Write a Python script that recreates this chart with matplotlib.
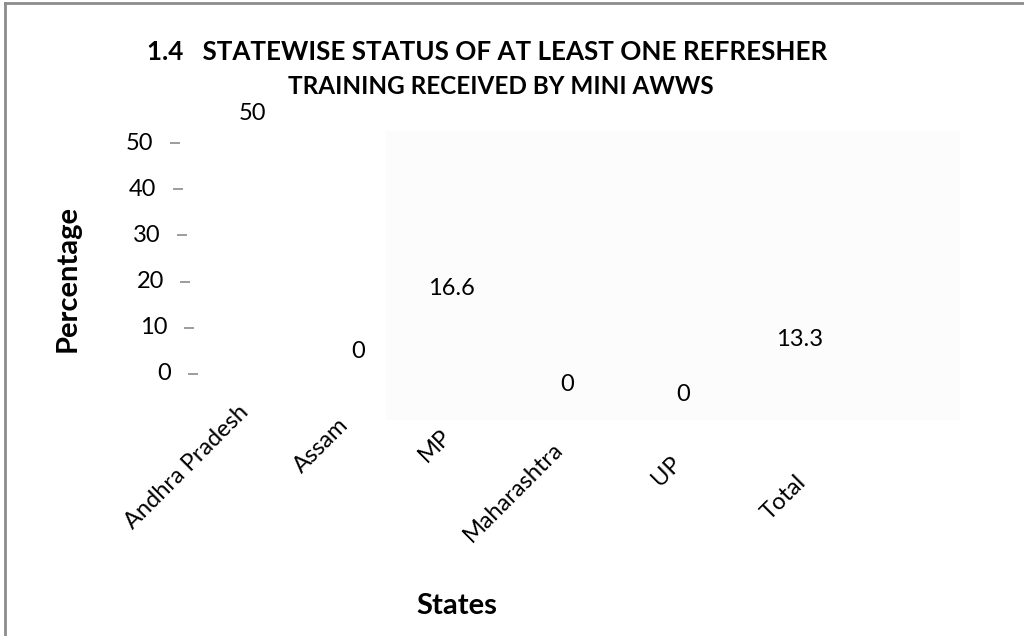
import numpy as np
import matplotlib
matplotlib.use('Agg')
import matplotlib.pyplot as plt
from matplotlib.patches import Rectangle
from matplotlib.transforms import Affine2D

plt.rcParams['font.family'] = ['Lato', 'DejaVu Sans']

# data
states = ['Andhra Pradesh', 'Assam', 'MP', 'Maharashtra', 'UP', 'Total']
percent = [50, 0, 16.6, 0, 0, 13.3]
yticks = [0, 10, 20, 30, 40, 50]

# the source chart is a broken 3d chart: labels drift, so keep pixel offsets per item
val_dx = [-4, -9, -25, -19, -13, -7]
val_dy = [30, 22, 9, -11, -21, -27]
cat_dx = [-19, -29, -36, -34, -26, -11]
cat_dy = [-27, -40, -52, -65, -79, -98]

fig = plt.figure(figsize=(10.24, 6.36), dpi=100)
W, H = 1024, 636
# axes from x=180..960 px, y=131..420 px
ax = fig.add_axes([180 / W, 1 - 420 / H, 780 / W, 289 / H])
ax.set_xlim(-0.7, 6.4)
ax.set_ylim(-10, 52.6)
ax.axis('off')

# faint plot panel
ax.add_patch(Rectangle(((386 - 180) / 780, 0), (960 - 386) / 780, 1,
                       transform=ax.transAxes, color='#fcfcfc', zorder=0))

# value labels
for i, v in enumerate(percent):
    ax.annotate(f'{v:g}', xy=(i, v), xytext=(val_dx[i], val_dy[i]),
                textcoords='offset pixels', ha='center', va='center',
                fontsize=17, annotation_clip=False)

# category labels, rotated
for i, s in enumerate(states):
    ax.annotate(s, xy=(i, 0), xytext=(cat_dx[i], cat_dy[i]),
                textcoords='offset pixels', ha='right', va='top',
                rotation=45, rotation_mode='anchor', fontsize=17,
                annotation_clip=False)

# slanted y axis ticks (the left edge leans like the 3d wall)
for t in yticks:
    shift = -0.36 * t
    ax.annotate(str(t), xy=(-0.7, t), xytext=(-9 + shift, 0),
                textcoords='offset pixels', ha='right', va='center',
                fontsize=17, annotation_clip=False)
    ax.plot([-0.7], [t], marker='_', ms=7, mew=1.2, color='#8c8c8c',
            transform=ax.transData + Affine2D().translate(12.5 + shift, 0),
            clip_on=False)

fig.text(487 / W, 1 - 52 / H, '1.4   STATEWISE STATUS OF AT LEAST ONE REFRESHER',
         ha='center', va='center', fontsize=18.7, fontweight='bold')
fig.text(501 / W, 1 - 87 / H, 'TRAINING RECEIVED BY MINI AWWS',
         ha='center', va='center', fontsize=17.5, fontweight='bold')
fig.text(68 / W, 1 - 278 / H, 'Percentage', rotation=90,
         ha='center', va='center', fontsize=21, fontweight='bold')
fig.text(457 / W, 1 - 606 / H, 'States',
         ha='center', va='center', fontsize=21, fontweight='bold')

# outer frame, only left and top edges show
fig.add_artist(plt.Line2D([5 / W, 5 / W], [0, 1 - 3 / H], color='#8c8c8c', lw=2))
fig.add_artist(plt.Line2D([5 / W, 1], [1 - 3 / H, 1 - 3 / H], color='#8c8c8c', lw=2))

fig.savefig('out.png', dpi=100, facecolor='white')
